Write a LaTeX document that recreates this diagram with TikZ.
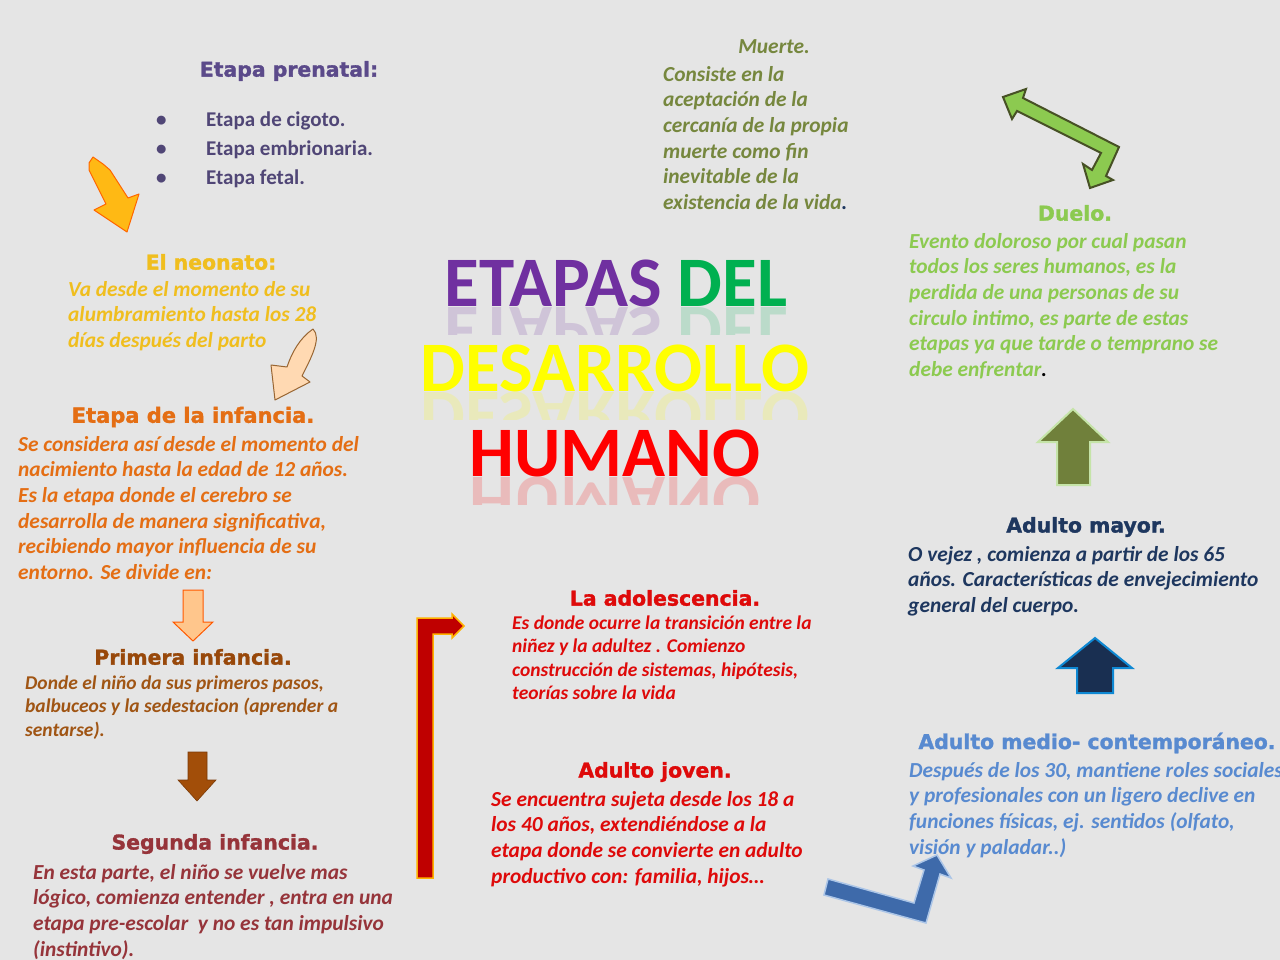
\documentclass[tikz,border=0pt]{standalone}
\usepackage{fontspec}
\setmainfont{Carlito}
\newfontfamily\headfont{DejaVu Sans}[BoldFeatures={FakeBold=1.5}]
\definecolor{fondo}{RGB}{229,229,229}
\definecolor{morado}{RGB}{91,74,138}
\definecolor{lista}{RGB}{80,70,118}
\definecolor{oliva}{RGB}{118,135,62}
\definecolor{oro}{RGB}{240,190,30}
\definecolor{naranja}{RGB}{228,110,20}
\definecolor{cafe}{RGB}{152,72,10}
\definecolor{cafetxt}{RGB}{160,85,20}
\definecolor{vino}{RGB}{150,52,58}
\definecolor{rojo}{RGB}{222,10,10}
\definecolor{azul}{RGB}{88,138,208}
\definecolor{acero}{RGB}{62,106,170}
\definecolor{marino}{RGB}{30,55,95}
\definecolor{verde}{RGB}{140,202,80}
\definecolor{ambar}{RGB}{255,185,20}
\definecolor{tpurpura}{RGB}{112,48,160}
\definecolor{tverde}{RGB}{0,176,80}
\definecolor{tamarillo}{RGB}{255,255,0}
\definecolor{trojo}{RGB}{255,0,0}
\tikzset{
  head/.style={font=\headfont\bfseries\fontsize{20.4}{24}\selectfont, inner sep=0pt},
  body/.style={font=\bfseries\itshape\fontsize{21.4}{25.7}\selectfont, align=left, anchor=north west, inner sep=0pt},
  small body/.style={body, font=\bfseries\itshape\fontsize{19.5}{23.4}\selectfont},
  title/.style={font=\bfseries\fontsize{71}{74}\selectfont, inner sep=0pt},
  mirror/.style={title, anchor=base, yscale=-1, transform shape, opacity=.18}
}
\begin{document}
\begin{tikzpicture}[x=1pt,y=-1pt]
\useasboundingbox (0,0) rectangle (1280,960);
\fill[fondo] (0,0) rectangle (1280,960);
% prenatal
\node[head, text=morado] (prenatal) at (289,71) {Etapa prenatal:};
\node[body, font=\bfseries\fontsize{21}{29}\selectfont, text=lista] (fases) at (156,106)
  {\strut\makebox[50pt][l]{\textbullet}Etapa de cigoto.\\
   \makebox[50pt][l]{\textbullet}Etapa embrionaria.\\
   \makebox[50pt][l]{\textbullet}Etapa fetal.};
\filldraw[fill=ambar, draw=orange!80!red, line width=1pt, line join=round]
  (89,163)--(93,157)--(103,164)--(110,170)--(128,198)--(139,194)--(127,232)--(94,210)--(106,204)--(89,170)--cycle;
% neonato
\node[head, text=oro] (neonato) at (211,262) {El neonato:};
\node[body, text=oro] (neonatoTxt) at (68,278)
  {\strut Va desde el momento de su\\ alumbramiento hasta los 28\\ días después del parto};
\filldraw[fill=orange!30!white, draw=brown!80!black, line width=1pt, line join=round]
  (313,329) .. controls (322,338) and (311,358) .. (302,376) -- (310,382) -- (275,400)
  -- (271,365) -- (287,367) .. controls (292,352) and (300,338) .. (313,329) -- cycle;
% infancia
\node[head, text=naranja, font=\headfont\bfseries\fontsize{21}{24}\selectfont] (infancia) at (193,417) {Etapa de la infancia.};
\node[body, text=naranja] (infanciaTxt) at (18,433)
  {\strut Se considera así desde el momento del\\ nacimiento hasta la edad de 12 años.\\
   Es la etapa donde el cerebro se\\ desarrolla de manera significativa,\\
   recibiendo mayor influencia de su\\ entorno. Se divide en:};
\filldraw[fill=orange!45!white, draw=orange!70!red, line width=1pt]
  (183,590)--(203,590)--(203,622)--(213,622)--(193,641)--(173,622)--(183,622)--cycle;
% primera infancia
\node[head, text=cafe] (primera) at (193,657) {Primera infancia.};
\node[small body, text=cafetxt] (primeraTxt) at (25,673)
  {\strut Donde el niño da sus primeros pasos,\\ balbuceos y la sedestacion (aprender a\\ sentarse).};
\filldraw[fill=cafe!90!orange, draw=cafe!80!black, line width=.6pt]
  (188,752)--(207,752)--(207,780)--(216,780)--(197,801)--(178,780)--(188,780)--cycle;
% segunda infancia
\node[head, text=vino] (segunda) at (215,844) {Segunda infancia.};
\node[body, text=vino] (segundaTxt) at (33,861)
  {\strut En esta parte, el niño se vuelve mas\\ lógico, comienza entender , entra en una\\
   etapa pre-escolar~ y no es tan impulsivo\\ (instintivo).};
% flecha roja
\filldraw[fill=red!75!black, draw=orange!60!yellow, line width=1.5pt, line join=miter]
  (417,878)--(417,618)--(452,618)--(452,614)--(464,626)--(452,638)--(452,634)--(433,634)--(433,878)--cycle;
% adolescencia
\node[head, text=rojo] (adolescencia) at (665,598) {La adolescencia.};
\node[small body, text=rojo] (adolescenciaTxt) at (512,613)
  {\strut Es donde ocurre la transición entre la\\ niñez y la adultez . Comienzo\\
   construcción de sistemas, hipótesis,\\ teorías sobre la vida};
% adulto joven
\node[head, text=rojo] (joven) at (655,772) {Adulto joven.};
\node[body, text=rojo] (jovenTxt) at (491,788)
  {\strut Se encuentra sujeta desde los 18 a\\ los 40 años, extendiéndose a la\\
   etapa donde se convierte en adulto\\ productivo con: familia, hijos…};
% flecha azul
\filldraw[fill=acero, draw=azul!50!white, line width=1.5pt, line join=miter]
  (828,879)--(914,903)--(924,870)--(913,866)--(937,855)--(951,878)--(940,874)--(926,923)--(824,895)--cycle;
% adulto medio
\node[head, text=azul] (medio) at (1097,743) {Adulto medio- contemporáneo.};
\node[body, text=azul] (medioTxt) at (909,759)
  {\strut Después de los 30, mantiene roles sociales\\ y profesionales con un ligero declive en\\
   funciones físicas, ej. sentidos (olfato,\\ visión y paladar..)};
\filldraw[fill=marino!85!black, draw=cyan!70!blue, line width=2pt]
  (1077,693)--(1077,668)--(1058,668)--(1095,638)--(1132,668)--(1113,668)--(1113,693)--cycle;
% adulto mayor
\node[head, text=marino] (mayor) at (1086,527) {Adulto mayor.};
\node[body, text=marino] (mayorTxt) at (908,543)
  {\strut O vejez , comienza a partir de los 65\\ años. Características de envejecimiento\\ general del cuerpo.};
\filldraw[fill=oliva!95!black, draw=verde!50!white, line width=2pt]
  (1057,485)--(1057,442)--(1038,442)--(1073,409)--(1108,442)--(1090,442)--(1090,485)--cycle;
% duelo
\node[head, text=verde] (duelo) at (1075,213) {Duelo.};
\node[body, text=verde] (dueloTxt) at (909,230)
  {\strut Evento doloroso por cual pasan\\ todos los seres humanos, es la\\
   perdida de una personas de su\\ circulo intimo, es parte de estas\\
   etapas ya que tarde o temprano se\\ debe enfrentar{\color{black}.}};
\filldraw[fill=verde, draw=oliva!60!black, line width=2pt, line join=miter]
  (1003,97)--(1026,89)--(1023,98)--(1119,147)--(1106,176)--(1113,180)--(1090,188)
  --(1083,164)--(1092,170)--(1101,153)--(1017,111)--(1012,119)--cycle;
% muerte
\node[body, anchor=center, text=oliva] (muerte) at (774,47) {Muerte.};
\node[body, text=oliva] (muerteTxt) at (663,63)
  {\strut Consiste en la\\ aceptación de la\\ cercanía de la propia\\ muerte como fin\\
   inevitable de la\\ existencia de la vida{\color{marino}.}};
% titulo
\node[title] (t1) at (616,283) {\textcolor{tpurpura}{ETAPAS} \textcolor{tverde}{DEL}};
\node[title, text=tamarillo] (t2) at (615,368) {DESARROLLO};
\node[title, text=trojo] (t3) at (615,453) {HUMANO};
\begin{scope}
\clip (400,307) rectangle (830,334);
\node[mirror] (r1) at (616,307) {\textcolor{tpurpura}{ETAPAS} \textcolor{tverde}{DEL}};
\end{scope}
\begin{scope}
\clip (400,392) rectangle (830,419);
\node[mirror, text=tamarillo] (r2) at (615,392) {DESARROLLO};
\end{scope}
\begin{scope}
\clip (400,477) rectangle (830,504);
\node[mirror, text=trojo] (r3) at (615,477) {HUMANO};
\end{scope}
\end{tikzpicture}
\end{document}
